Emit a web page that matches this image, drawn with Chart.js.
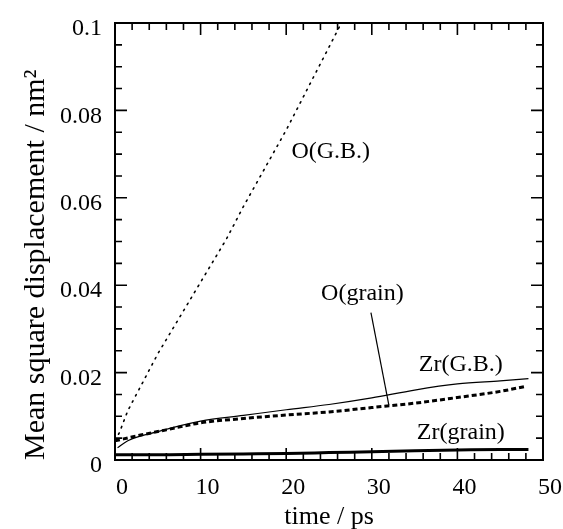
<!DOCTYPE html>
<html>
<head>
<meta charset="utf-8">
<script src="https://cdn.jsdelivr.net/npm/chart.js@4"></script>
<style>
  html, body { margin: 0; padding: 0; background: #fff; }
  canvas { display: block; }
</style>
</head>
<body>
<canvas id="myChart" width="563" height="529"></canvas>
<script>
// time (ps) and mean square displacement (nm^2)
const tOGB = [0, 0.5, 1.5, 5, 10, 13, 15, 20, 25, 26.45];
const msdOGB = [0.0045, 0.0062, 0.0113, 0.0243, 0.0407, 0.0505, 0.058, 0.0755, 0.0945, 0.1];

const tOgrain = [0, 3, 6, 10, 15, 20, 25, 30, 35, 40, 45, 48.1];
const msdOgrain = [0.0044, 0.0057, 0.0069, 0.0085, 0.0095, 0.0103, 0.011, 0.012, 0.013, 0.0143, 0.0157, 0.0169];

const tZrGB = [0.3, 1.5, 5, 10, 15, 20, 25, 30, 35, 40, 45, 48.3];
const msdZrGB = [0.0028, 0.0044, 0.0065, 0.0089, 0.0102, 0.0115, 0.0127, 0.0142, 0.016, 0.0174, 0.0181, 0.0186];

const tZrgrain = [0, 5, 10, 15, 20, 25, 30, 35, 40, 45, 48.3];
const msdZrgrain = [0.0012, 0.0012, 0.0013, 0.0014, 0.0015, 0.0017, 0.0019, 0.0021, 0.0023, 0.0024, 0.0024];

const xTicks = [0, 10, 20, 30, 40, 50];
const yTicks = [0, 0.02, 0.04, 0.06, 0.08, 0.1];

function pts(t, v) {
  return t.map((x, i) => ({x: x, y: v[i]}));
}

const serif = "'Liberation Serif', 'Times New Roman', serif";

// frame, inward ticks on all four sides, curve labels
const decorations = {
  id: 'decorations',
  afterDraw(chart, args, opts) {
    const {ctx, chartArea: a, scales: {x, y}} = chart;
    ctx.save();
    ctx.strokeStyle = '#000';
    ctx.lineWidth = 2;
    ctx.strokeRect(a.left, a.top, a.right - a.left, a.bottom - a.top);

    ctx.lineWidth = 1.6;
    ctx.beginPath();
    for (let t = 0; t <= 50; t += 2) {
      const px = x.getPixelForValue(t);
      const len = t % 10 === 0 ? 12 : 7;
      ctx.moveTo(px, a.bottom); ctx.lineTo(px, a.bottom - len);
      ctx.moveTo(px, a.top); ctx.lineTo(px, a.top + len);
    }
    for (let i = 0; i <= 20; i++) {
      const py = y.getPixelForValue(i * 0.005);
      const len = i % 4 === 0 ? 12 : 7;
      ctx.moveTo(a.left, py); ctx.lineTo(a.left + len, py);
      ctx.moveTo(a.right, py); ctx.lineTo(a.right - len, py);
    }
    ctx.stroke();

    // leader line O(grain)
    ctx.lineWidth = 1.2;
    ctx.beginPath();
    ctx.moveTo(x.getPixelForValue(opts.leader[0]), y.getPixelForValue(opts.leader[1]));
    ctx.lineTo(x.getPixelForValue(opts.leader[2]), y.getPixelForValue(opts.leader[3]));
    ctx.stroke();

    ctx.fillStyle = '#000';
    ctx.font = '24px ' + serif;
    ctx.textAlign = 'center';
    ctx.textBaseline = 'alphabetic';
    opts.labels.forEach(l => {
      ctx.fillText(l.text, x.getPixelForValue(l.x), y.getPixelForValue(l.y));
    });
    ctx.restore();
  }
};

new Chart("myChart", {
  type: "line",
  data: {
    datasets: [
      {label: "O(G.B.)", data: pts(tOGB, msdOGB), borderColor: "#000", borderWidth: 1.6,
       borderDash: [1.5, 5.5], borderCapStyle: "round", pointRadius: 0, tension: 0},
      {label: "O(grain)", data: pts(tOgrain, msdOgrain), borderColor: "#000", borderWidth: 3,
       borderDash: [5, 3], pointRadius: 0, cubicInterpolationMode: "monotone"},
      {label: "Zr(G.B.)", data: pts(tZrGB, msdZrGB), borderColor: "#000", borderWidth: 1.2,
       pointRadius: 0, cubicInterpolationMode: "monotone"},
      {label: "Zr(grain)", data: pts(tZrgrain, msdZrgrain), borderColor: "#000", borderWidth: 3,
       pointRadius: 0, cubicInterpolationMode: "monotone"}
    ]
  },
  options: {
    responsive: false,
    animation: false,
    layout: {padding: {left: 0, top: 23, right: 20, bottom: 0}},
    plugins: {
      legend: {display: false},
      tooltip: {enabled: false},
      decorations: {
        leader: [29.9, 0.0337, 32.0, 0.0125],
        labels: [
          {text: "O(G.B.)", x: 25.2, y: 0.0692},
          {text: "O(grain)", x: 28.9, y: 0.0367},
          {text: "Zr(G.B.)", x: 40.4, y: 0.0203},
          {text: "Zr(grain)", x: 40.4, y: 0.0047}
        ]
      }
    },
    scales: {
      x: {
        type: "linear", min: 0, max: 50,
        afterBuildTicks: s => { s.ticks = xTicks.map(v => ({value: v})); },
        ticks: {color: "#000", font: {family: serif, size: 24}, padding: 13, labelOffset: 7,
                maxRotation: 0, autoSkip: false},
        grid: {display: false, drawTicks: false},
        border: {display: false},
        title: {display: true, text: "time / ps", color: "#000",
                font: {family: serif, size: 26, lineHeight: 0.9}, padding: {top: 0, bottom: 0}},
        afterFit: s => { s.height = 69; s.paddingLeft = 0; s.paddingRight = 0; }
      },
      y: {
        min: 0, max: 0.1,
        afterBuildTicks: s => { s.ticks = yTicks.map(v => ({value: v})); },
        ticks: {color: "#000", font: {family: serif, size: 24}, padding: 13, labelOffset: 6,
                callback: v => String(+v.toFixed(2))},
        grid: {display: false, drawTicks: false},
        border: {display: false},
        title: {display: true, text: "Mean square displacement / nm²", color: "#000", align: "start",
                font: {family: serif, size: 30}, padding: {top: 18, bottom: 0}},
        afterFit: s => { s.width = 115; s.paddingTop = 0; s.paddingBottom = 0; }
      }
    }
  },
  plugins: [decorations]
});
</script>
</body>
</html>
